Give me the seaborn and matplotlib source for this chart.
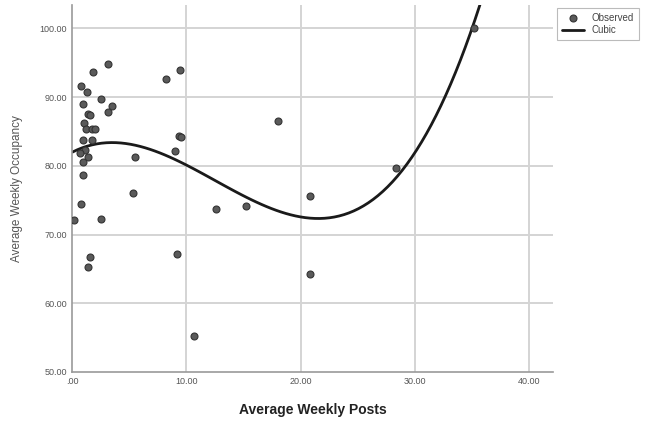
import numpy as np
import pandas as pd
import seaborn as sns
import matplotlib.pyplot as plt

weekly_posts = [
    0.1, 3.1, 1.8, 9.4, 8.2, 0.75, 1.3, 2.5, 0.9, 3.5,
    1.35, 1.5, 3.1, 1.0, 1.2, 1.7, 2.0, 0.9, 1.7, 9.3,
    9.5, 1.1, 0.65, 1.35, 5.5, 9.0, 0.9, 0.9, 5.3, 0.75,
    2.5, 9.15, 1.5, 1.4, 18.0, 28.4, 20.8, 12.6, 15.2, 20.8,
    10.7, 35.2,
]
weekly_occupancy = [
    72.1, 94.8, 93.6, 93.9, 92.6, 91.6, 90.7, 89.7, 89.0, 88.7,
    87.6, 87.4, 87.8, 86.2, 85.3, 85.3, 85.3, 83.7, 83.7, 84.4,
    84.2, 82.3, 81.8, 81.3, 81.3, 82.1, 80.5, 78.6, 76.0, 74.4,
    72.2, 67.2, 66.7, 65.2, 86.6, 79.7, 75.6, 73.7, 74.1, 64.2,
    55.2, 100.0,
]
x_ticks = [0, 10, 20, 30, 40]
x_tick_labels = [".00", "10.00", "20.00", "30.00", "40.00"]
y_ticks = [50, 60, 70, 80, 90, 100]
y_tick_labels = ["50.00", "60.00", "70.00", "80.00", "90.00", "100.00"]

df = pd.DataFrame({"posts": weekly_posts, "occupancy": weekly_occupancy})

sns.set_style("white")
plt.rcParams["font.family"] = ["Liberation Sans", "DejaVu Sans"]

fig = plt.figure(figsize=(6.47, 4.26), dpi=100)
ax = fig.add_axes([0.112, 0.127, 0.742, 0.861])
ax.set_xlim(0, 42.1)
ax.set_ylim(50, 103.4)

for v in x_ticks[1:]:
    ax.axvline(v, color="#d4d4d4", lw=1.4, zorder=0)
for v in y_ticks[1:]:
    ax.axhline(v, color="#d4d4d4", lw=1.4, zorder=0)

sns.scatterplot(
    data=df, x="posts", y="occupancy", ax=ax, s=25,
    color="#5a5a5a", edgecolor="#333333", linewidth=0.8,
    label="Observed", zorder=3,
)
sns.regplot(
    data=df, x="posts", y="occupancy", ax=ax, order=3, ci=None,
    scatter=False, truncate=False, label="Cubic",
    line_kws={"color": "#1a1a1a", "lw": 2.0, "zorder": 2},
)

ax.set_xticks(x_ticks, x_tick_labels)
ax.set_yticks(y_ticks, y_tick_labels)
ax.tick_params(labelsize=6.5, colors="#555555", length=0, pad=4)
ax.set_xlabel("Average Weekly Posts", fontsize=10, fontweight="bold",
              color="#222222", labelpad=12)
ax.set_ylabel("Average Weekly Occupancy", fontsize=8.5, color="#555555",
              labelpad=12)

for side in ["top", "right"]:
    ax.spines[side].set_visible(False)
for side in ["left", "bottom"]:
    ax.spines[side].set_color("#999999")
    ax.spines[side].set_linewidth(1.2)

leg = ax.legend(loc="upper left", bbox_to_anchor=(1.0, 1.005), fontsize=7,
                frameon=True, fancybox=False, edgecolor="#aaaaaa",
                handlelength=2.2, borderpad=0.5, labelspacing=0.25)
leg.get_frame().set_linewidth(0.8)
for t in leg.get_texts():
    t.set_color("#444444")

fig.savefig("out.png", dpi=100)
